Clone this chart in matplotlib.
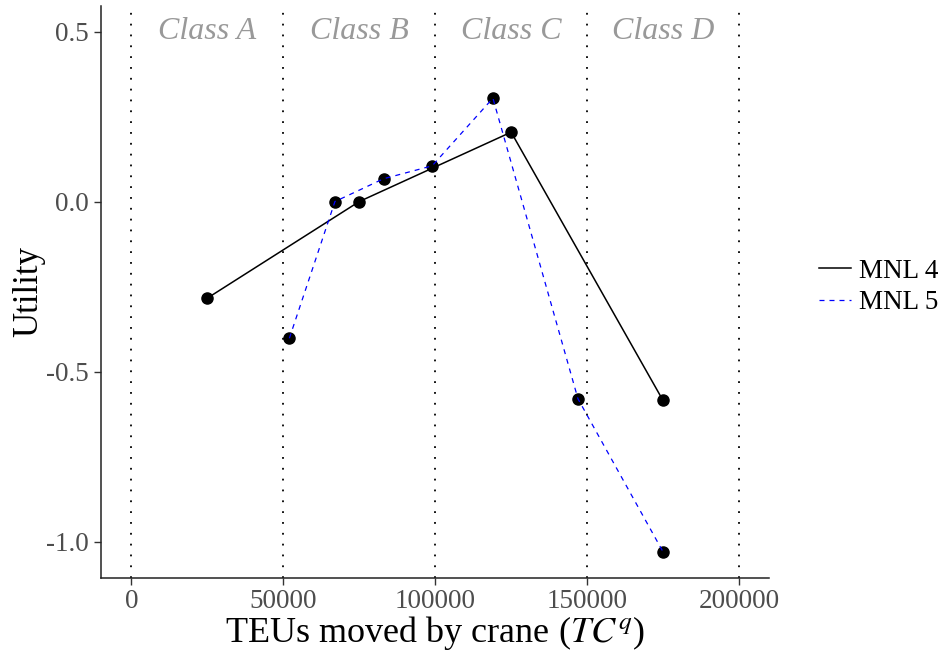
import matplotlib
matplotlib.use("Agg")
import matplotlib.pyplot as plt

# -----------------------------
# Data
# -----------------------------
mnl4_x = [25000, 75000, 125000, 175000]
mnl4_y = [-0.284, 0.0, 0.204, -0.585]

mnl5_x = [52000, 67000, 83000, 99000, 119000, 147000, 175000]
mnl5_y = [-0.402, 0.0, 0.067, 0.105, 0.304, -0.580, -1.030]

class_bounds = [0, 50000, 100000, 150000, 200000]
class_names = ["Class A", "Class B", "Class C", "Class D"]
class_centers = [25000, 75000, 125000, 175000]
class_label_y = 0.5

x_ticks = [0, 50000, 100000, 150000, 200000]
y_ticks = [-1.0, -0.5, 0.0, 0.5]

# -----------------------------
# Style
# -----------------------------
plt.rcParams['font.family'] = ['Liberation Serif', 'DejaVu Serif']
plt.rcParams['mathtext.fontset'] = 'stix'
plt.rcParams['axes.unicode_minus'] = False

fig = plt.figure(figsize=(9.44, 6.59), dpi=100)
ax = fig.add_axes([0.107, 0.1234, 0.708, 0.868])

# class boundaries
for b in class_bounds:
    ax.axvline(b, color="black", linewidth=1.3, linestyle=(0, (1, 5)), zorder=1)

# class labels
for name, cx in zip(class_names, class_centers):
    ax.text(cx, class_label_y, name, ha="center", va="center",
            fontsize=23, style="italic", color="#999999", zorder=2)

# points
ax.scatter(mnl4_x, mnl4_y, s=64, color="black", zorder=3)
ax.scatter(mnl5_x, mnl5_y, s=64, color="black", zorder=3)

# lines
ax.plot(mnl4_x, mnl4_y, color="black", linewidth=1.1, label="MNL 4", zorder=4)
ax.plot(mnl5_x, mnl5_y, color="#0000FF", linewidth=0.9,
        linestyle=(0, (4, 4)), label="MNL 5", zorder=4)

ax.set_xlim(-10000, 210000)
ax.set_ylim(-1.106, 0.576)

ax.set_xticks(x_ticks)
ax.set_xticklabels([str(t) for t in x_ticks])
ax.set_yticks(y_ticks)
ax.set_yticklabels([f"{t:.1f}" for t in y_ticks])
ax.tick_params(axis="both", direction="out", length=5, width=1,
               colors="#333333", labelcolor="#4D4D4D", labelsize=19.5)

for side in ["top", "right"]:
    ax.spines[side].set_visible(False)
for side in ["left", "bottom"]:
    ax.spines[side].set_linewidth(1.1)
    ax.spines[side].set_color("#222222")

ax.set_xlabel(r"TEUs moved by crane ($TC^q$)", fontsize=26, labelpad=0)
ax.set_ylabel("Utility", fontsize=25, labelpad=1)

ax.legend(loc="center left", bbox_to_anchor=(795 / 944, 1 - 287 / 659),
          bbox_transform=fig.transFigure, frameon=False, fontsize=19.5,
          handlelength=1.15, handletextpad=0.3, labelspacing=0.25)

fig.savefig("out.png", dpi=100)
plt.close(fig)
